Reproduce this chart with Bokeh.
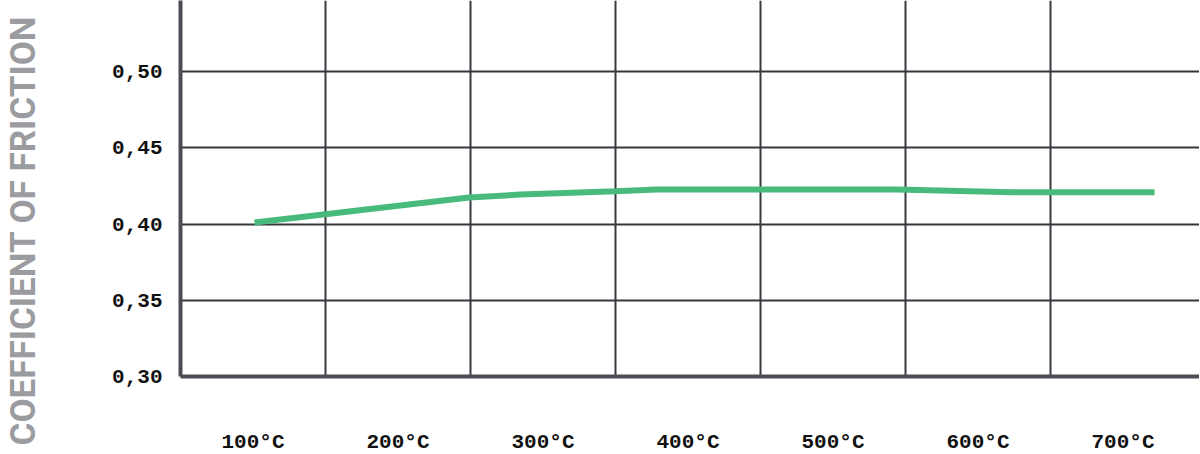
import math
from bokeh.plotting import figure
from bokeh.layouts import row
from bokeh.models import Range1d, FixedTicker
from bokeh.core.properties import value
from bokeh.embed import file_html
from bokeh.resources import INLINE

# ---- data ----
categories = ["100°C", "200°C", "300°C", "400°C", "500°C", "600°C", "700°C"]
y_ticks = [0.30, 0.35, 0.40, 0.45, 0.50]
y_tick_labels = ["0,30", "0,35", "0,40", "0,45", "0,50"]
line_temps = [100, 243, 277, 341, 368, 528, 605, 700]
line_cof = [0.401, 0.4174, 0.4193, 0.4215, 0.4226, 0.4226, 0.4209, 0.4209]
y_title = "COEFFICIENT OF FRICTION"

n = len(categories)

# ---- left strip holding the rotated axis title ----
tw, H = 45, 454
t = figure(width=tw, height=H, frame_width=tw, frame_height=H,
           x_range=Range1d(0, tw), y_range=Range1d(0, H),
           min_border=0, output_backend="svg", toolbar_location=None)
t.frame_align = False
t.axis.visible = False
t.grid.visible = False
t.outline_line_color = None
t.text(x=[22.5], y=[H - 230], text=[y_title], angle=math.pi / 2,
       text_align="center", text_baseline="middle",
       text_font=value("Roboto"), text_font_style="bold", text_font_size="35px",
       text_color="#9b9ca0")

# ---- main chart ----
p = figure(
    frame_width=1019, frame_height=376,
    min_border_left=180 - tw, min_border_right=0, min_border_top=0, min_border_bottom=78,
    x_range=Range1d(0, 1019 / 145.0), y_range=Range1d(0.30, 0.30 + 376 / 1525.0),
    output_backend="svg", toolbar_location=None,
)
p.frame_align = False
p.extra_x_ranges = {"temp": Range1d(50.67, 730.0)}
p.outline_line_color = None

# grids
p.xgrid.ticker = FixedTicker(ticks=list(range(1, n)))
p.ygrid.ticker = FixedTicker(ticks=y_ticks)
for g in (p.xgrid, p.ygrid):
    g.grid_line_color = "#36393e"
    g.grid_line_width = 2

# x axis
xa = p.xaxis[0]
xa.ticker = FixedTicker(ticks=[i + 0.5 for i in range(n)])
xa.major_label_overrides = {i + 0.5: c for i, c in enumerate(categories)}
xa.major_tick_line_color = None
xa.minor_tick_line_color = None
xa.major_tick_out = 0
xa.major_tick_in = 0
xa.major_label_standoff = 54
xa.major_label_text_font = "Liberation Mono"
xa.major_label_text_font_style = "bold"
xa.major_label_text_font_size = "21px"
xa.major_label_text_color = "#111111"
xa.axis_line_color = "#4a4e54"
xa.axis_line_width = 4

# y axis
ya = p.yaxis[0]
ya.ticker = FixedTicker(ticks=y_ticks)
ya.major_label_overrides = {tk: lb for tk, lb in zip(y_ticks, y_tick_labels)}
ya.major_tick_line_color = None
ya.minor_tick_line_color = None
ya.major_tick_out = 0
ya.major_tick_in = 0
ya.major_label_standoff = 18
ya.major_label_text_font = "Liberation Mono"
ya.major_label_text_font_style = "bold"
ya.major_label_text_font_size = "21px"
ya.major_label_text_color = "#111111"
ya.major_label_text_baseline = "hanging"
ya.axis_line_color = "#4a4e54"
ya.axis_line_width = 4

# line
p.line(line_temps, line_cof, x_range_name="temp", line_color="#48ba7c", line_width=6)

layout = row(t, p, spacing=0)
open("out.html", "w").write(file_html(layout, INLINE))
